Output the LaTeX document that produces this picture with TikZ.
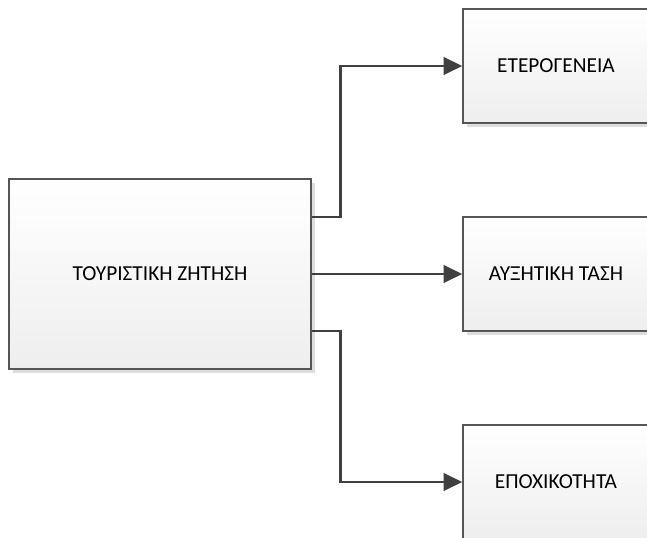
\documentclass[tikz,border=0pt]{standalone}
\usepackage{fontspec}
\setmainfont{Carlito}
\usetikzlibrary{arrows.meta,shadows,calc}

\definecolor{boxline}{HTML}{555555}
\definecolor{boxtop}{HTML}{FFFFFF}
\definecolor{boxbottom}{HTML}{EEEEEE}
\definecolor{boxshade}{HTML}{DEDEDE}
\definecolor{connline}{HTML}{404040}

\tikzset{
  box/.style={rectangle, draw=boxline, line width=1pt,
    top color=boxtop, bottom color=boxbottom,
    drop shadow={shadow xshift=3pt, shadow yshift=-3pt, fill=boxshade, opacity=1},
    font=\fontsize{16}{18}\selectfont, inner sep=0pt},
  conn/.style={draw=connline, line width=2pt,
    -{Triangle[length=14pt, width=13pt]}}
}

\begin{document}
\begin{tikzpicture}[x=0.75pt, y=-0.75pt]
  \useasboundingbox (0,0) rectangle (647,538);
  % main box on the left
  \node[box, minimum width=302*0.75pt, minimum height=190*0.75pt]
    (demand) at (160,274) {ΤΟΥΡΙΣΤΙΚΗ ΖΗΤΗΣΗ};
  % the three boxes on the right
  \def\rw{186*0.75pt}\def\rh{114*0.75pt}
  \node[box, minimum width=\rw, minimum height=\rh] (hetero) at (556,66) {ΕΤΕΡΟΓΕΝΕΙΑ};
  \node[box, minimum width=\rw, minimum height=\rh] (growth) at (556,274) {ΑΥΞΗΤΙΚΗ ΤΑΣΗ};
  \node[box, minimum width=\rw, minimum height=\rh] (season) at (556,482) {ΕΠΟΧΙΚΟΤΗΤΑ};
  % connectors
  \draw[conn] ($(demand.east)+(0,-57)$) -- ++(29,0) |- (hetero.west);
  \draw[conn] (demand.east) -- (growth.west);
  \draw[conn] ($(demand.east)+(0,57)$) -- ++(29,0) |- (season.west);
\end{tikzpicture}
\end{document}
